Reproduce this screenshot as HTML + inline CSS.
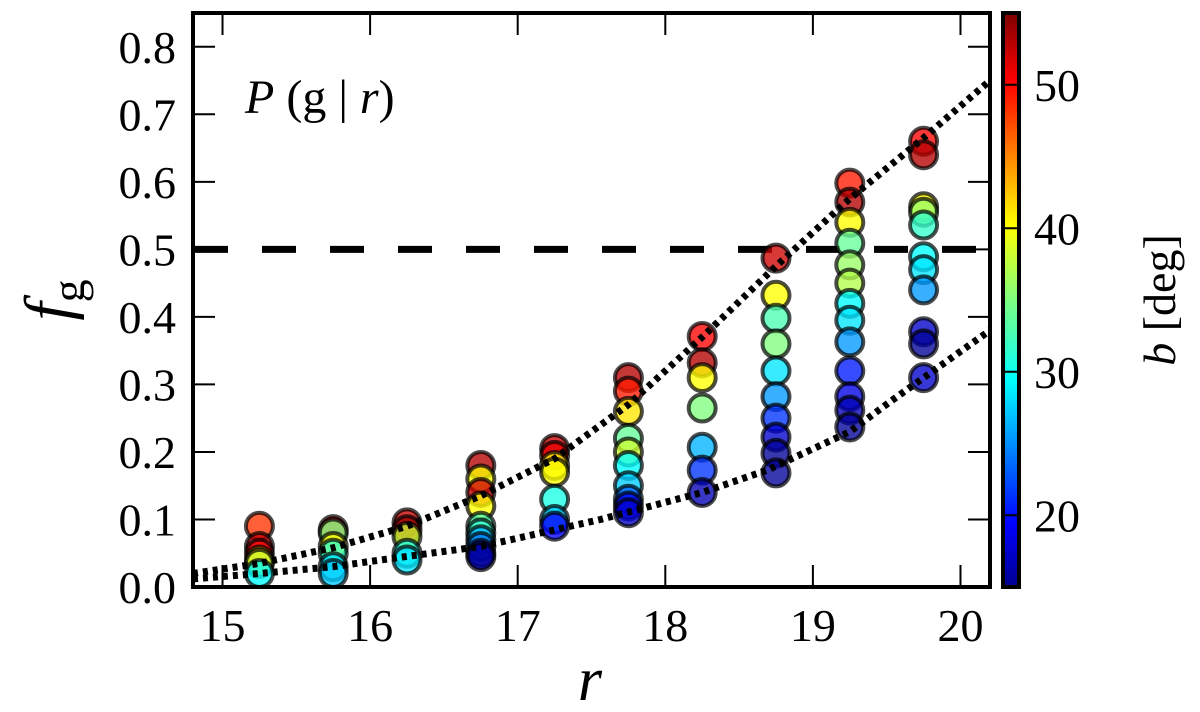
<!DOCTYPE html>
<html><head><meta charset="utf-8"><style>
html,body{margin:0;padding:0;background:#fff}
svg{display:block}
text{font-family:"Liberation Serif","DejaVu Serif",serif;fill:#000}
</style></head><body>
<svg id="chart" width="1200" height="712" viewBox="0 0 1200 712" xmlns="http://www.w3.org/2000/svg">
<defs><linearGradient id="jet" x1="0" y1="1" x2="0" y2="0">
<stop offset="0" stop-color="#00008f"/><stop offset="0.11" stop-color="#0000ff"/><stop offset="0.36" stop-color="#00ffff"/><stop offset="0.5" stop-color="#7fff7f"/><stop offset="0.63" stop-color="#ffff00"/><stop offset="0.88" stop-color="#ff0000"/><stop offset="1" stop-color="#7f0000"/></linearGradient></defs>
<g id="marks"></g>
<g id="axes"></g>
</svg>
<script>
const xTicks=[15,16,17,18,19,20];
const yTicks=[0.0,0.1,0.2,0.3,0.4,0.5,0.6,0.7,0.8];
const cbTicks=[20,30,40,50];
const colR=[15.25,15.75,16.25,16.75,17.25,17.75,18.25,18.75,19.25,19.75];
const colF=[
[0.09,0.06,0.05,0.04,0.035,0.02],
[0.085,0.08,0.06,0.05,0.03,0.02],
[0.095,0.085,0.075,0.05,0.04],
[0.18,0.16,0.14,0.12,0.09,0.08,0.07,0.06,0.05,0.045],
[0.205,0.195,0.18,0.17,0.13,0.10,0.09],
[0.31,0.29,0.26,0.22,0.20,0.18,0.15,0.13,0.12,0.11],
[0.371,0.332,0.31,0.265,0.207,0.173,0.14],
[0.487,0.432,0.398,0.36,0.32,0.282,0.25,0.222,0.198,0.169],
[0.598,0.57,0.54,0.509,0.477,0.45,0.42,0.395,0.363,0.32,0.282,0.262,0.237],
[0.66,0.64,0.563,0.555,0.536,0.489,0.47,0.44,0.378,0.36,0.31]];
const colB=[
[48,52,50,40,38,30],
[52,35,40,32,29,28],
[52,54,38,31,29],
[53,40,52,40,33,32,27,25,18,16],
[52,51,40,40,31,28,20],
[53,49,41,34,38,30,28,24,20,18],
[50,53,40,35,27,22,17],
[52,40,33,35,29,26,22,18,16,16],
[49,53,40,34,36,37,30,29,26,21,19,17,16],
[50,53,40,36,32,30,29,26,18,16,18]];
const upperR=[14.8,15.25,15.75,16.25,16.75,17.25,17.75,18.25,18.75,19.25,19.75,20.2];
const upperF=[0.02,0.035,0.058,0.09,0.135,0.19,0.27,0.37,0.475,0.575,0.665,0.75];
const lowerR=[14.8,15.25,15.75,16.07,16.75,17.56,18.25,18.69,19.25,19.54,20.2];
const lowerF=[0.012,0.02,0.03,0.04,0.06,0.1,0.14,0.173,0.23,0.277,0.38];
const refLine=0.5;

const X0=193,X1=990,Y0=587,Y1=13,RMIN=14.8,RMAX=20.2,FMIN=0,FMAX=0.85;
const CBX=1003,CBW=16,BMIN=15,BMAX=55;
const sx=r=>X0+(r-RMIN)/(RMAX-RMIN)*(X1-X0);
const sy=f=>Y0-(f-FMIN)/(FMAX-FMIN)*(Y0-Y1);
const sb=b=>Y0-(b-BMIN)/(BMAX-BMIN)*(Y0-Y1);
function jet(t){t=Math.max(0,Math.min(1,t));
 const c=v=>Math.round(255*Math.max(0,Math.min(1,v)));
 return `rgb(${c(1.5-Math.abs(4*t-3))},${c(1.5-Math.abs(4*t-2))},${c(1.5-Math.abs(4*t-1))})`;}
const NS='http://www.w3.org/2000/svg';
function mk(p,tag,at,txt){const e=document.createElementNS(NS,tag);for(const k in at)e.setAttribute(k,at[k]);if(txt!==undefined)e.textContent=txt;p.appendChild(e);return e;}
const marks=document.getElementById('marks'),axes=document.getElementById('axes');

let e=mk(marks,'line',{x1:X0,x2:X1,y1:sy(refLine),y2:sy(refLine),stroke:'#000','stroke-width':7,'stroke-dasharray':'34 34','stroke-dashoffset':'-1'});



colR.forEach((r,i)=>{colF[i].forEach((f,j)=>{
 const c=mk(marks,'circle',{cx:sx(r),cy:sy(f),r:13.5,fill:jet((colB[i][j]-BMIN)/(BMAX-BMIN)),'fill-opacity':0.78,stroke:'#000','stroke-opacity':0.7,'stroke-width':4});
 
 
});});

[[upperR,upperF,'upper-model-curve'],[lowerR,lowerF,'lower-model-curve']].forEach(([rs,arr,name])=>{
 const d=rs.map((r,i)=>(i?'L':'M')+sx(r).toFixed(1)+','+sy(arr[i]).toFixed(1)).join(' ');
 const p=mk(marks,'path',{d:d,fill:'none',stroke:'#000','stroke-width':7,'stroke-dasharray':'5 5','stroke-linejoin':'round'});
 
 
});

e=mk(axes,'rect',{x:X0,y:Y1,width:X1-X0,height:Y0-Y1,fill:'none',stroke:'#000','stroke-width':4});


xTicks.forEach(v=>{const x=sx(v);
 mk(axes,'line',{x1:x,x2:x,y1:Y0,y2:Y0-22,stroke:'#000','stroke-width':2});
 mk(axes,'line',{x1:x,x2:x,y1:Y1,y2:Y1+22,stroke:'#000','stroke-width':2});
 const t=mk(axes,'text',{x:x,y:641,'font-size':46,'text-anchor':'middle'},String(v));
 
 
});
yTicks.forEach(v=>{const y=sy(v);
 mk(axes,'line',{x1:X0,x2:X0+22,y1:y,y2:y,stroke:'#000','stroke-width':2});
 mk(axes,'line',{x1:X1,x2:X1-22,y1:y,y2:y,stroke:'#000','stroke-width':2});
 const t=mk(axes,'text',{x:176,y:y+16,'font-size':46,'text-anchor':'end'},v.toFixed(1));
 
 
});
e=mk(axes,'text',{x:590,y:700,'font-size':62,'font-style':'italic','text-anchor':'middle'},'r');


e=mk(axes,'text',{transform:'translate(70,300) rotate(-90)','font-size':66,'text-anchor':'middle'});


mk(e,'tspan',{'font-style':'italic'},'f');
mk(e,'tspan',{dy:14,'font-size':46},'g');
e=mk(axes,'text',{x:245,y:113,'font-size':48},'');


mk(e,'tspan',{'font-style':'italic'},'P');
mk(e,'tspan',{},' (g | ');
mk(e,'tspan',{'font-style':'italic'},'r');
mk(e,'tspan',{},')');

e=mk(axes,'rect',{x:CBX,y:Y1,width:CBW,height:Y0-Y1,fill:'url(#jet)',stroke:'#000','stroke-width':4});


cbTicks.forEach(v=>{const y=sb(v);
 mk(axes,'line',{x1:CBX,x2:CBX+CBW,y1:y,y2:y,stroke:'#000','stroke-width':2});
 const t=mk(axes,'text',{x:1034,y:y+16,'font-size':46},String(v));
 
 
});
e=mk(axes,'text',{transform:'translate(1175,300) rotate(-90)','font-size':46,'text-anchor':'middle'});


mk(e,'tspan',{'font-style':'italic'},'b');
mk(e,'tspan',{},' [deg]');
</script>
</body></html>
